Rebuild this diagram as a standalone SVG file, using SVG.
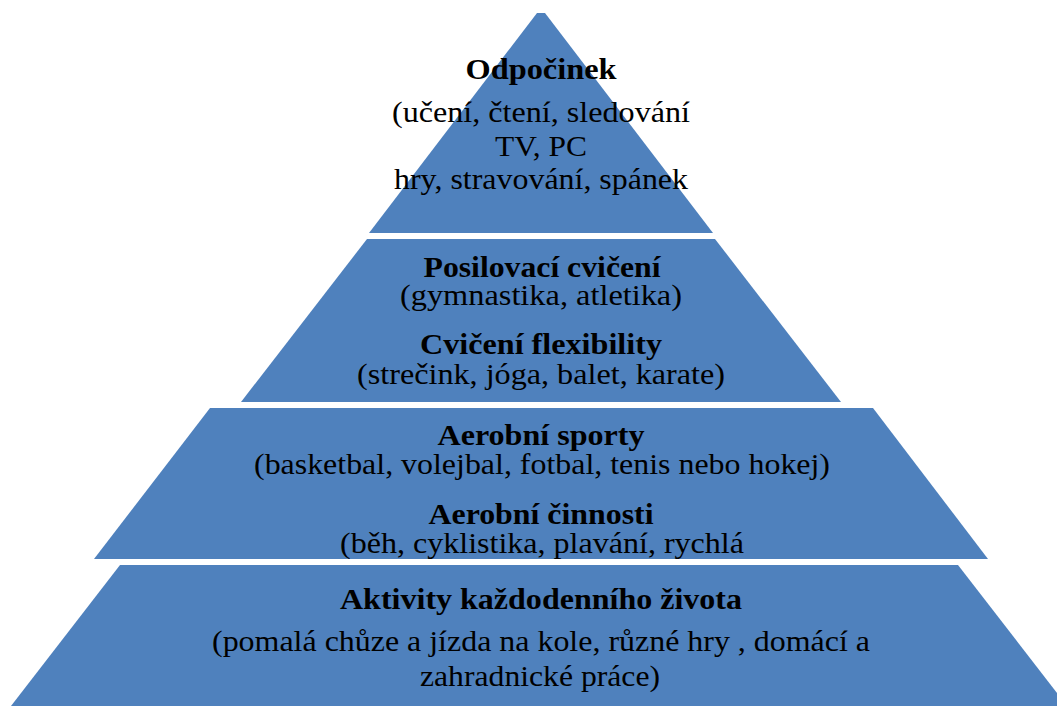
<svg xmlns="http://www.w3.org/2000/svg" width="1057" height="706" viewBox="0 0 1057 706">
<style>
.tier{fill:#4F81BD;}
text{font-family:'Liberation Serif','Times New Roman',Times,serif;font-size:30px;fill:#000;text-anchor:middle;}
.b{font-weight:bold;}
</style>
<defs>
<clipPath id="c3"><polygon points="210,408 873,408 988,559 94,559"/></clipPath>
</defs>
<rect width="1057" height="706" fill="#fff"/>
<g id="tier1">
<polygon class="tier" points="537,13 545,13 713,233 369,233"/>
<text class="b" x="541" y="79" textLength="151" lengthAdjust="spacingAndGlyphs">Odpočinek</text>
<text x="541" y="122" textLength="298" lengthAdjust="spacingAndGlyphs">(učení, čtení, sledování</text>
<text x="541" y="156" textLength="92" lengthAdjust="spacingAndGlyphs">TV, PC</text>
<text x="541" y="189" textLength="294" lengthAdjust="spacingAndGlyphs">hry, stravování, spánek</text>
</g>
<g id="tier2">
<polygon class="tier" points="367,239 715,239 841,402 241,402"/>
<text class="b" x="542" y="277" textLength="237" lengthAdjust="spacingAndGlyphs">Posilovací cvičení</text>
<text x="541" y="305" textLength="282" lengthAdjust="spacingAndGlyphs">(gymnastika, atletika)</text>
<text class="b" x="541" y="354" textLength="242" lengthAdjust="spacingAndGlyphs">Cvičení flexibility</text>
<text x="541" y="384" textLength="368" lengthAdjust="spacingAndGlyphs">(strečink, jóga, balet, karate)</text>
</g>
<g id="tier3">
<polygon class="tier" points="210,408 873,408 988,559 94,559"/>
<g clip-path="url(#c3)">
<text class="b" x="541" y="445" textLength="207" lengthAdjust="spacingAndGlyphs">Aerobní sporty</text>
<text x="542" y="474" textLength="576" lengthAdjust="spacingAndGlyphs">(basketbal, volejbal, fotbal, tenis nebo hokej)</text>
<text class="b" x="541" y="524" textLength="225" lengthAdjust="spacingAndGlyphs">Aerobní činnosti</text>
<text x="542" y="553" textLength="404" lengthAdjust="spacingAndGlyphs">(běh, cyklistika, plavání, rychlá</text>
</g>
</g>
<g id="tier4">
<polygon class="tier" points="120,565 958,565 1067,706 11,706"/>
<text class="b" x="541" y="609" textLength="402" lengthAdjust="spacingAndGlyphs">Aktivity každodenního života</text>
<text x="541" y="651" textLength="658" lengthAdjust="spacingAndGlyphs">(pomalá chůze a jízda na kole, různé hry , domácí a</text>
<text x="540" y="686" textLength="240" lengthAdjust="spacingAndGlyphs">zahradnické práce)</text>
</g>
<g id="connectors"/>
</svg>
